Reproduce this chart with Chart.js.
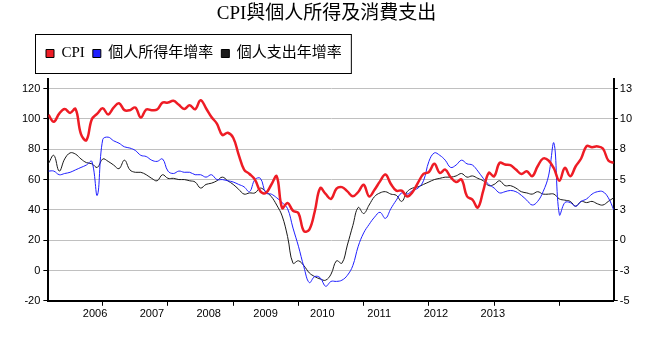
<!DOCTYPE html>
<html>
<head>
<meta charset="utf-8">
<script src="https://cdn.jsdelivr.net/npm/chart.js@4.4.1/dist/chart.umd.min.js"></script>
<style>
  html, body { margin: 0; padding: 0; background: #fff; }
</style>
</head>
<body>
<canvas id="myChart" width="648" height="354"></canvas>
<script>
// monthly, Mar 2005 .. Nov 2013 (index 0 = Mar 2005)
const cpi = [
  102.7, 98.2, 103.5, 106.6, 104, 106.6, 90, 86, 99.8, 103.5,
  107, 103, 107.5, 110.4, 105.8, 105.8, 107.5, 100.9, 106.2, 105.8,
  106.2, 110.8, 110.8, 112, 109.3, 106.6, 109, 106.4, 112.4, 107.1,
  101.3, 96.9, 89.4, 90.9, 87.6, 76.5, 66.6, 63.7, 60, 52.2,
  51.1, 56.6, 62.2, 41.2, 44.5, 39.4, 37.8, 26, 27, 38.9,
  54.4, 50.5, 47.3, 54, 55, 52.2, 49, 51.8, 56.6, 48.9,
  53.3, 58.8, 63.3, 57.1, 52.7, 52.7, 48.9, 51.8, 58, 63.7,
  65, 70.4, 64.4, 66.6, 61.5, 58.4, 60, 49, 46.7, 41.6,
  52.7, 64.4, 62.2, 71, 69.9, 69.5, 66.6, 63.7, 65.5, 62.2,
  68.8, 73.9, 72.6, 67.3, 59.3, 67.7, 62.2, 68.8, 73.9, 82.1,
  81.4, 81.9, 80.5, 72.6, 71
];
const income = [
  5.7, 5.7, 5.4, 5.5, 5.6, 5.8, 6.0, 6.2, 6.5, 3.7,
  8.3, 8.5, 8.2, 8.0, 7.7, 7.6, 7.4, 7.0, 6.9, 6.6,
  6.5, 6.7, 5.7, 5.5, 5.7, 5.6, 5.6, 5.4, 5.4, 5.2,
  5.4, 5.0, 5.0, 4.9, 4.8, 4.6, 4.4, 4.0, 5.0, 5.1,
  3.9, 3.8, 3.5, 3.1, 2.6, 1.0, -0.5, -2.2, -3.5, -3.0,
  -3.1, -3.8, -3.4, -3.4, -3.3, -2.9, -2.1, -0.5, 0.6, 1.3,
  1.9, 2.3, 1.8, 2.6, 3.3, 3.9, 3.8, 4.1, 4.3, 4.9,
  6.5, 7.2, 7.0, 6.6, 6.0, 6.2, 6.6, 6.3, 6.2, 5.7,
  5.1, 4.6, 4.3, 3.9, 4.0, 4.1, 4.0, 3.7, 3.3, 2.9,
  3.2, 4.0, 5.3, 8.0, 2.1, 3.1, 3.1, 2.8, 3.2, 3.4,
  3.8, 4.0, 4.0, 3.5, 2.5
];
const spending = [
  6.3, 7.0, 5.7, 6.7, 7.2, 7.1, 6.7, 6.4, 6.3, 6.0,
  6.7, 6.5, 6.2, 5.9, 6.6, 5.8, 5.6, 5.6, 5.4, 5.1,
  4.9, 5.4, 5.1, 5.1, 5.0, 5.0, 4.9, 4.8, 4.3, 4.6,
  4.7, 4.9, 5.2, 4.9, 4.6, 4.2, 3.8, 3.9, 3.9, 4.3,
  4.0, 3.6, 2.9, 2.0, 0.3, -1.9, -1.7, -2.1, -2.7, -3.0,
  -3.2, -3.3, -2.8, -1.7, -1.9, -0.4, 1.2, 2.7, 2.2, 2.9,
  3.6, 3.9, 4.0, 3.8, 3.7, 3.2, 4.0, 4.3, 4.4, 4.6,
  4.8, 5.0, 5.1, 5.2, 5.2, 5.3, 5.5, 5.2, 5.3, 5.1,
  4.9, 4.5, 4.6, 4.9, 4.5, 4.5, 4.3, 4.0, 3.9, 3.8,
  4.0, 3.8, 3.8, 3.8, 3.4, 3.3, 3.2, 2.8, 3.2, 3.1,
  3.2, 3.0, 2.9, 3.2, 3.5
];
const years = ['2006', '2007', '2008', '2009', '2010', '2011', '2012', '2013'];
const yearStart = [10, 22, 34, 46, 58, 70, 82, 94];   // January of each year

// the year captions sit a bit off the January ticks, as in the original
const labelPos = years.map((y, k) => 8.6 + k * 10.45);

const serif = "'Liberation Serif', 'Noto Sans CJK TC', serif";
const sans = "'Liberation Sans', Arial, sans-serif";

const legendFrame = {
  id: 'legendFrame',
  afterLayout(chart) {
    const lg = chart.legend;
    const h = lg.bottom - lg.top;
    lg.left = 38;
    lg.top = 38;
    lg.bottom = lg.top + h;
  },
  afterDraw(chart) {
    const boxes = chart.legend.legendHitBoxes;
    if (!boxes || !boxes.length) return;
    const first = boxes[0], last = boxes[boxes.length - 1];
    const cy = first.top + first.height / 2;
    const ctx = chart.ctx;
    ctx.save();
    ctx.strokeStyle = '#000';
    ctx.lineWidth = 1;
    ctx.strokeRect(first.left - 10.5, Math.round(cy - 20) + 0.5, last.left + last.width + 20 - first.left, 39);
    ctx.restore();
  }
};

function points(arr) {
  return arr.map((v, i) => ({ x: i, y: v }));
}

let ctx = document.getElementById('myChart');
let myChart = new Chart(ctx, {
  type: 'line',
  data: {
    datasets: [{
      label: 'CPI',
      data: points(cpi),
      borderColor: '#ee1c25',
      backgroundColor: '#ee1c25',
      borderWidth: 2.5,
      yAxisID: 'y'
    }, {
      label: '個人所得年增率',
      data: points(income),
      borderColor: '#2020ff',
      backgroundColor: '#2020ff',
      borderWidth: 1,
      yAxisID: 'y1'
    }, {
      label: '個人支出年增率',
      data: points(spending),
      borderColor: '#1a1a1a',
      backgroundColor: '#1a1a1a',
      borderWidth: 1,
      yAxisID: 'y1'
    }]
  },
  options: {
    responsive: false,
    animation: false,
    devicePixelRatio: 1,
    elements: {
      point: { radius: 0 },
      line: { tension: 0.4 }
    },
    layout: { padding: { left: 19, right: 14, top: 0, bottom: 31 } },
    scales: {
      x: {
        type: 'linear',
        min: 0,
        max: 104,
        afterBuildTicks(scale) {
          scale.ticks = yearStart.map(v => ({ value: v }))
            .concat(labelPos.map(v => ({ value: v })))
            .sort((a, b) => a.value - b.value);
        },
        ticks: {
          autoSkip: false,
          maxRotation: 0,
          padding: 2,
          color: '#000',
          font: { family: sans, size: 11 },
          callback(value) {
            const k = labelPos.indexOf(value);
            return k >= 0 ? years[k] : '';
          }
        },
        grid: {
          drawOnChartArea: false,
          tickLength: 5,
          tickColor: c => (c.tick && c.tick.label) ? 'rgba(0,0,0,0)' : '#000'
        },
        border: { color: '#000', width: 2 }
      },
      y: {
        position: 'left',
        min: -20,
        max: 126.5,
        ticks: {
          stepSize: 20,
          includeBounds: false,
          padding: 3,
          color: '#000',
          font: { family: sans, size: 11 }
        },
        grid: { color: '#c0c0c0', tickColor: '#000', tickLength: 5 },
        border: { color: '#000', width: 2 }
      },
      y1: {
        position: 'right',
        min: -5,
        max: 13.3125,
        ticks: {
          stepSize: 2.5,
          includeBounds: false,
          padding: 2,
          color: '#000',
          font: { family: sans, size: 11 },
          callback: v => Math.sign(v) * Math.round(Math.abs(v))
        },
        grid: { drawOnChartArea: false, tickColor: '#000', tickLength: 4 },
        border: { color: '#000', width: 2 }
      }
    },
    plugins: {
      tooltip: { enabled: false },
      title: {
        display: true,
        text: 'CPI與個人所得及消費支出',
        color: '#000',
        font: { family: serif, size: 19, weight: 'normal' },
        padding: { top: 3, bottom: 20 }
      },
      legend: {
        display: true,
        position: 'top',
        align: 'start',
        labels: {
          boxWidth: 8,
          boxHeight: 8,
          padding: 8,
          color: '#000',
          font: { family: serif, size: 15 },
          generateLabels: chart => chart.data.datasets.map((ds, i) => ({
            text: ds.label,
            fillStyle: ds.borderColor,
            strokeStyle: '#000',
            lineWidth: 1,
            hidden: false,
            datasetIndex: i,
            fontColor: '#000'
          }))
        }
      }
    }
  },
  plugins: [legendFrame]
});
</script>
</body>
</html>
